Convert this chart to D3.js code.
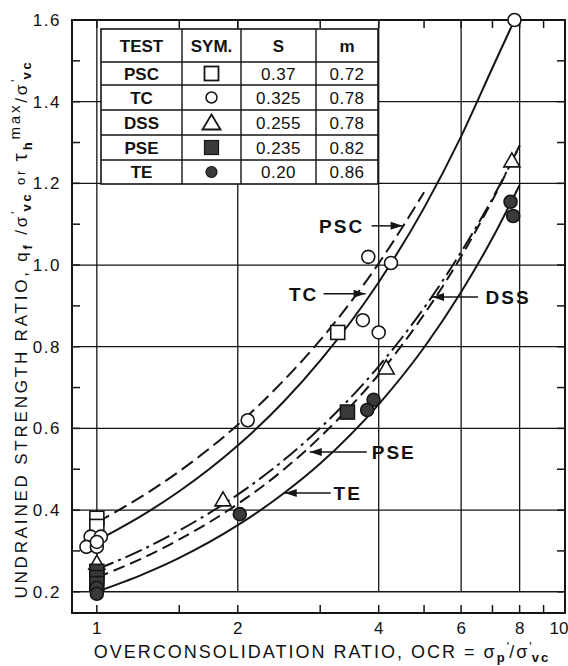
<!DOCTYPE html>
<html>
<head>
<meta charset="utf-8">
<script src="https://cdn.jsdelivr.net/npm/d3@7"></script>
<style>
  body { margin: 0; background: #fff; }
  svg text { font-family: "Liberation Sans", Arial, sans-serif; fill: #111; }
</style>
</head>
<body>
<div id="drawing"></div>
<script>
// data
var tests = ["PSC", "TC", "DSS", "PSE", "TE"];
var sValues = ["0.37", "0.325", "0.255", "0.235", "0.20"];
var mValues = ["0.72", "0.78", "0.78", "0.82", "0.86"];

var xTickLabels = [1, 2, 4, 6, 8, 10];
var xMinorTicks = [1, 1.5, 2, 3, 4, 5, 6, 7, 8, 9];
var xGrid = [1, 2, 4, 6, 8];
var yTickLabels = [0.2, 0.4, 0.6, 0.8, 1.0, 1.2, 1.4, 1.6];
var yMinorTicks = [0.2, 0.3, 0.4, 0.5, 0.6, 0.7, 0.8, 0.9, 1.0, 1.1, 1.2, 1.3, 1.4, 1.5];

// fitted curves (OCR, ratio)
var pscOcr = [1, 1.25, 1.5, 2, 2.5, 3, 4, 5];
var pscVal = [0.37, 0.434, 0.495, 0.609, 0.716, 0.816, 1.004, 1.178];
var tcOcr = [1, 1.25, 1.5, 2, 2.5, 3, 4, 5, 6, 7, 7.8];
var tcVal = [0.325, 0.387, 0.446, 0.558, 0.664, 0.766, 0.958, 1.14, 1.315, 1.483, 1.60];
var dssOcr = [1, 1.25, 1.5, 2, 2.5, 3, 4, 5, 6, 7, 8];
var dssVal = [0.255, 0.303, 0.35, 0.438, 0.521, 0.601, 0.752, 0.895, 1.032, 1.163, 1.292];
var pseOcr = [1, 1.25, 1.5, 2, 2.5, 3, 4, 5, 6, 7, 8];
var pseVal = [0.235, 0.282, 0.328, 0.415, 0.498, 0.579, 0.732, 0.879, 1.021, 1.159, 1.293];
var teOcr = [1, 1.25, 1.5, 2, 2.5, 3, 4, 5, 6, 7, 8];
var teVal = [0.20, 0.242, 0.283, 0.363, 0.44, 0.514, 0.659, 0.798, 0.934, 1.066, 1.196];

// measured points
var pscPts = [[1, 0.38], [1, 0.36], [3.27, 0.835]];
var tcPts = [[0.97, 0.335], [1.02, 0.335], [0.95, 0.31], [1.0, 0.31], [1.0, 0.322],
             [2.1, 0.62], [3.7, 0.865], [4.0, 0.835], [3.8, 1.02], [4.25, 1.005], [7.8, 1.6]];
var dssPts = [[1, 0.27], [1.86, 0.425], [4.15, 0.748], [7.7, 1.255]];
var psePts = [[1, 0.25], [1, 0.235], [1, 0.22], [3.43, 0.64]];
var tePts = [[1, 0.21], [1, 0.195], [2.02, 0.39], [3.9, 0.67], [3.78, 0.645], [7.65, 1.155], [7.75, 1.12]];

var width = 568, height = 666;
var plotL = 72, plotR = 565, plotT = 20, plotB = 613;

var svg = d3.select("#drawing").append("svg")
  .attr("width", width)
  .attr("height", height);

var x = d3.scaleLog().domain([0.885, 10]).range([plotL, plotR]);
var y = d3.scaleLinear().domain([0.148, 1.6]).range([plotB, plotT]);

var ink = "#151515";

// grid
var grid = svg.append("g");
grid.selectAll(".hg").data(yTickLabels.slice(0, -1)).enter().append("line")
  .attr("x1", plotL).attr("x2", plotR)
  .attr("y1", function(d) { return y(d); }).attr("y2", function(d) { return y(d); })
  .attr("stroke", ink).attr("stroke-width", 1.3);
grid.selectAll(".vg").data(xGrid).enter().append("line")
  .attr("x1", function(d) { return x(d); }).attr("x2", function(d) { return x(d); })
  .attr("y1", y(0.2)).attr("y2", plotT)
  .attr("stroke", ink).attr("stroke-width", 1.3);

// inward ticks
var tl = 8;
grid.selectAll(".bt").data(xMinorTicks).enter().append("line")
  .attr("x1", function(d) { return x(d); }).attr("x2", function(d) { return x(d); })
  .attr("y1", plotB).attr("y2", plotB - tl)
  .attr("stroke", ink).attr("stroke-width", 1.5);
grid.selectAll(".tt").data(xMinorTicks).enter().append("line")
  .attr("x1", function(d) { return x(d); }).attr("x2", function(d) { return x(d); })
  .attr("y1", plotT).attr("y2", plotT + tl)
  .attr("stroke", ink).attr("stroke-width", 1.5);
grid.selectAll(".lt").data(yMinorTicks).enter().append("line")
  .attr("x1", plotL).attr("x2", plotL + tl)
  .attr("y1", function(d) { return y(d); }).attr("y2", function(d) { return y(d); })
  .attr("stroke", ink).attr("stroke-width", 1.5);
grid.selectAll(".rt").data(yMinorTicks).enter().append("line")
  .attr("x1", plotR).attr("x2", plotR - tl)
  .attr("y1", function(d) { return y(d); }).attr("y2", function(d) { return y(d); })
  .attr("stroke", ink).attr("stroke-width", 1.5);

// frame
svg.append("rect")
  .attr("x", plotL).attr("y", plotT)
  .attr("width", plotR - plotL).attr("height", plotB - plotT)
  .attr("fill", "none").attr("stroke", ink).attr("stroke-width", 2);

// tick labels
svg.append("g").selectAll("text").data(xTickLabels).enter().append("text")
  .attr("x", function(d) { return d === 10 ? x(d) - 6 : x(d); })
  .attr("y", 634)
  .attr("text-anchor", "middle")
  .attr("font-size", 17)
  .text(function(d) { return d; });

svg.append("g").selectAll("text").data(yTickLabels).enter().append("text")
  .attr("x", 61)
  .attr("y", function(d) { return y(d) + 6; })
  .attr("text-anchor", "end")
  .attr("font-size", 17)
  .attr("letter-spacing", 1.5)
  .text(function(d) { return d.toFixed(1); });

// curves
var line = d3.line()
  .x(function(d) { return x(d[0]); })
  .y(function(d) { return y(d[1]); })
  .curve(d3.curveMonotoneX);

function pairs(a, b) { return a.map(function(v, i) { return [v, b[i]]; }); }

var curves = [
  { ocr: pscOcr, val: pscVal, dash: "14,6" },
  { ocr: tcOcr, val: tcVal, dash: null },
  { ocr: dssOcr, val: dssVal, dash: "18,5,3,5" },
  { ocr: pseOcr, val: pseVal, dash: "12,6" },
  { ocr: teOcr, val: teVal, dash: null }
];
svg.append("g").selectAll("path").data(curves).enter().append("path")
  .attr("d", function(c) { return line(pairs(c.ocr, c.val)); })
  .attr("fill", "none")
  .attr("stroke", ink)
  .attr("stroke-width", 2)
  .attr("stroke-dasharray", function(c) { return c.dash; });

// markers
var mk = svg.append("g");
function drawSquare(g, pts, filled) {
  g.selectAll(null).data(pts).enter().append("rect")
    .attr("x", function(d) { return x(d[0]) - 7; })
    .attr("y", function(d) { return y(d[1]) - 7; })
    .attr("width", 14).attr("height", 14)
    .attr("fill", filled ? "#3a3a3a" : "#fff")
    .attr("stroke", ink).attr("stroke-width", 1.6);
}
function drawCircle(g, pts, filled) {
  g.selectAll(null).data(pts).enter().append("circle")
    .attr("cx", function(d) { return x(d[0]); })
    .attr("cy", function(d) { return y(d[1]); })
    .attr("r", 6.5)
    .attr("fill", filled ? "#3a3a3a" : "#fff")
    .attr("stroke", ink).attr("stroke-width", 1.6);
}
function drawTriangle(g, pts) {
  g.selectAll(null).data(pts).enter().append("path")
    .attr("d", function(d) {
      var cx = x(d[0]), cy = y(d[1]);
      return "M" + cx + "," + (cy - 8) + "L" + (cx + 8) + "," + (cy + 6) + "L" + (cx - 8) + "," + (cy + 6) + "Z";
    })
    .attr("fill", "#fff")
    .attr("stroke", ink).attr("stroke-width", 1.6);
}
drawSquare(mk, pscPts, false);
drawCircle(mk, tcPts, false);
drawTriangle(mk, dssPts);
drawSquare(mk, psePts, true);
drawCircle(mk, tePts, true);

// curve labels with arrows
var notes = [
  { label: "PSC", tip: [4.5, 1.096], lineDx: -31, textDx: -61 },
  { label: "TC", tip: [3.75, 0.93], lineDx: -42, textDx: -62 },
  { label: "DSS", tip: [5.2, 0.922], lineDx: 46, textDx: 76 },
  { label: "PSE", tip: [2.85, 0.542], lineDx: 57, textDx: 84 },
  { label: "TE", tip: [2.52, 0.442], lineDx: 46, textDx: 63 }
];
var ng = svg.append("g").selectAll("g").data(notes).enter().append("g")
  .attr("transform", function(d) { return "translate(" + x(d.tip[0]) + "," + y(d.tip[1]) + ")"; });
ng.append("line")
  .attr("x1", function(d) { return d.lineDx; }).attr("x2", 0)
  .attr("y1", 0).attr("y2", 0)
  .attr("stroke", ink).attr("stroke-width", 1.5);
ng.append("path")
  .attr("d", function(d) {
    var s = d.lineDx < 0 ? -1 : 1;
    return "M0,0L" + (s * 12) + ",-4L" + (s * 12) + ",4Z";
  })
  .attr("fill", ink);
ng.append("text")
  .attr("x", function(d) { return d.textDx; })
  .attr("y", 7)
  .attr("text-anchor", "middle")
  .attr("font-size", 19)
  .attr("font-weight", "bold")
  .attr("letter-spacing", 2)
  .text(function(d) { return d.label; });

// table
var colX = [101, 182, 241, 316, 378];
var rowY = [29, 62, 85, 110, 135, 160, 184];
var tbl = svg.append("g");
tbl.append("rect")
  .attr("x", colX[0]).attr("y", rowY[0])
  .attr("width", colX[4] - colX[0]).attr("height", rowY[6] - rowY[0])
  .attr("fill", "#fff").attr("stroke", ink).attr("stroke-width", 1.6);
tbl.selectAll(".rl").data(rowY.slice(1, -1)).enter().append("line")
  .attr("x1", colX[0]).attr("x2", colX[4])
  .attr("y1", function(d) { return d; }).attr("y2", function(d) { return d; })
  .attr("stroke", ink).attr("stroke-width", 1.4);
tbl.selectAll(".cl").data(colX.slice(1, -1)).enter().append("line")
  .attr("x1", function(d) { return d; }).attr("x2", function(d) { return d; })
  .attr("y1", rowY[0]).attr("y2", rowY[6])
  .attr("stroke", ink).attr("stroke-width", 1.4);

var headers = ["TEST", "SYM.", "S", "m"];
tbl.selectAll(".hd").data(headers).enter().append("text")
  .attr("x", function(d, i) { return (colX[i] + colX[i + 1]) / 2; })
  .attr("y", (rowY[0] + rowY[1]) / 2 + 6)
  .attr("text-anchor", "middle")
  .attr("font-size", 17)
  .attr("font-weight", 600)
  .text(function(d) { return d; });

var rows = tbl.selectAll(".row").data(tests).enter().append("g")
  .attr("transform", function(d, i) { return "translate(0," + (rowY[i + 1] + rowY[i + 2]) / 2 + ")"; });
rows.append("text")
  .attr("x", (colX[0] + colX[1]) / 2).attr("y", 6)
  .attr("text-anchor", "middle").attr("font-size", 17).attr("font-weight", 600)
  .text(function(d) { return d; });
rows.append("text")
  .attr("x", (colX[2] + colX[3]) / 2).attr("y", 6)
  .attr("text-anchor", "middle").attr("font-size", 17).attr("letter-spacing", 0.5)
  .text(function(d, i) { return sValues[i]; });
rows.append("text")
  .attr("x", (colX[3] + colX[4]) / 2).attr("y", 6)
  .attr("text-anchor", "middle").attr("font-size", 17).attr("letter-spacing", 0.5)
  .text(function(d, i) { return mValues[i]; });

var symX = (colX[1] + colX[2]) / 2;
rows.each(function(d, i) {
  var g = d3.select(this);
  if (i === 0) g.append("rect").attr("x", symX - 7).attr("y", -7).attr("width", 14).attr("height", 14)
    .attr("fill", "#fff").attr("stroke", ink).attr("stroke-width", 1.8);
  if (i === 1) g.append("circle").attr("cx", symX).attr("cy", 0).attr("r", 5.5)
    .attr("fill", "#fff").attr("stroke", ink).attr("stroke-width", 1.5);
  if (i === 2) g.append("path").attr("d", "M" + symX + ",-8L" + (symX + 9) + ",7L" + (symX - 9) + ",7Z")
    .attr("fill", "#fff").attr("stroke", ink).attr("stroke-width", 1.8);
  if (i === 3) g.append("rect").attr("x", symX - 7).attr("y", -7).attr("width", 14).attr("height", 14)
    .attr("fill", "#3a3a3a").attr("stroke", ink).attr("stroke-width", 1.2);
  if (i === 4) g.append("circle").attr("cx", symX).attr("cy", 0).attr("r", 5.5)
    .attr("fill", "#3a3a3a").attr("stroke", ink).attr("stroke-width", 1.2);
});

// axis titles (primes sit above the subscripts, as in the print)
var xt = svg.append("text")
  .attr("x", 322).attr("y", 658)
  .attr("text-anchor", "middle")
  .attr("font-size", 18)
  .attr("letter-spacing", 2);
xt.append("tspan").text("OVERCONSOLIDATION RATIO, OCR = σ");
xt.append("tspan").attr("font-size", 13).attr("dy", 4).attr("font-weight", "bold").text("p");
xt.append("tspan").attr("font-size", 13).attr("dy", -11).attr("letter-spacing", 0).text("'");
xt.append("tspan").attr("dy", 7).text("/σ");
xt.append("tspan").attr("font-size", 13).attr("dy", -7).attr("letter-spacing", 0).text("'");
xt.append("tspan").attr("font-size", 13).attr("dy", 11).attr("font-weight", "bold").text("vc");

var yt = svg.append("text")
  .attr("transform", "translate(27,329) rotate(-90)")
  .attr("text-anchor", "middle")
  .attr("font-size", 17)
  .attr("letter-spacing", 2.8);
yt.append("tspan").text("UNDRAINED  STRENGTH  RATIO,  q");
yt.append("tspan").attr("font-size", 13).attr("dy", 5).attr("font-weight", "bold").text("f");
yt.append("tspan").attr("dy", -5).text(" /σ");
yt.append("tspan").attr("font-size", 13).attr("dy", -7).attr("letter-spacing", 0).text("'");
yt.append("tspan").attr("font-size", 13).attr("dy", 11).attr("font-weight", "bold").text("vc");
yt.append("tspan").attr("font-size", 13).attr("dy", -6).text(" or ");
yt.append("tspan").attr("dy", 2).attr("font-size", 21).text("τ");
yt.append("tspan").attr("font-size", 13).attr("dy", 5).attr("font-weight", "bold").text("h");
yt.append("tspan").attr("font-size", 15).attr("dy", -12).text("max");
yt.append("tspan").attr("dy", 7).text("/σ");
yt.append("tspan").attr("font-size", 13).attr("dy", -7).attr("letter-spacing", 0).text("'");
yt.append("tspan").attr("font-size", 13).attr("dy", 11).attr("font-weight", "bold").text("vc");
</script>
</body>
</html>
